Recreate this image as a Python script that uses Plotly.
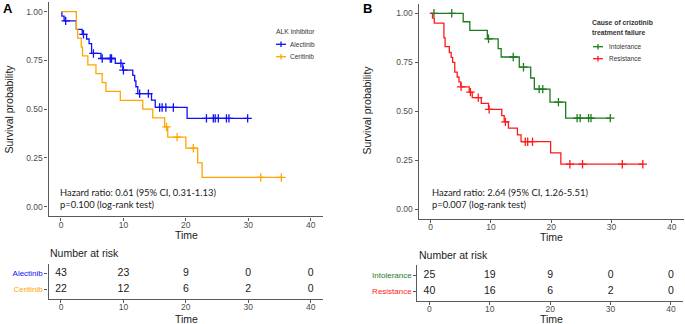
import numpy as np
import plotly.graph_objects as go

W, H = 685, 324

# ---------------- data ----------------
time_ticks = [0, 10, 20, 30, 40]

alec_event_t = [0.15, 0.5, 2.46, 3.4, 4.1, 4.5, 4.9, 6.4, 8.7, 9.9, 11.5, 11.8, 12.0, 12.3, 14.5, 15.1, 20.2]
alec_event_s = [0.977, 0.953, 0.909, 0.884, 0.86, 0.836, 0.786, 0.76, 0.735, 0.70, 0.673, 0.645, 0.615, 0.58, 0.547, 0.509, 0.453]
alec_cens_t = [0.75, 3.6, 5.2, 6.6, 7.9, 8.1, 9.6, 10.0, 12.6, 14.0, 15.8, 16.2, 16.8, 18.0, 23.3, 24.4, 24.7, 25.2, 26.5, 26.9, 29.9]

ceri_event_t = [2.46, 2.67, 3.25, 3.45, 4.3, 5.6, 6.6, 7.2, 9.5, 13.1, 14.7, 16.6, 17.1, 20.0, 21.9, 22.6]
ceri_event_s = [0.909, 0.864, 0.818, 0.773, 0.727, 0.682, 0.636, 0.591, 0.545, 0.50, 0.455, 0.409, 0.357, 0.30, 0.225, 0.15]
ceri_cens_t = [16.9, 18.6, 21.2, 32.0, 35.3]

intol_event_t = [5.4, 6.5, 9.4, 11.2, 11.7, 14.7, 16.6, 17.2, 19.8, 22.4]
intol_event_s = [0.957, 0.913, 0.87, 0.82, 0.777, 0.725, 0.67, 0.613, 0.547, 0.465]
intol_cens_t = [0.55, 3.5, 9.6, 13.7, 15.4, 18.0, 18.6, 21.2, 24.3, 24.8, 26.2, 26.6, 29.8]

resist_event_t = [0.3, 0.6, 2.2, 2.4, 3.1, 3.4, 3.65, 4.0, 4.4, 4.7, 5.0, 6.4, 6.9, 8.4, 9.6, 11.8, 12.2, 12.9, 14.4, 15.0, 19.9, 21.6]
resist_event_s = [0.975, 0.95, 0.875, 0.83, 0.80, 0.775, 0.75, 0.70, 0.675, 0.65, 0.625, 0.598, 0.57, 0.54, 0.51, 0.478, 0.446, 0.414, 0.38, 0.345, 0.288, 0.23]
resist_cens_t = [5.05, 6.6, 7.9, 9.7, 12.4, 15.7, 16.1, 16.9, 23.1, 25.2, 31.8, 35.2]

risk_alec = [43, 23, 9, 0, 0]
risk_ceri = [22, 12, 6, 2, 0]
risk_intol = [25, 19, 9, 0, 0]
risk_resist = [40, 16, 6, 2, 0]

C_BLUE, C_ORANGE, C_GREEN, C_RED = "#1010F5", "#FFA500", "#1E7B1E", "#FF1A1A"

# ---------------- helpers ----------------
def px(x):
    return x / W

def py(y):
    return 1 - y / H

def km_curve(ev_t, ev_s, cens_t):
    xs = [0.0] + list(ev_t)
    ys = [1.0] + list(ev_s)
    last = max(cens_t + list(ev_t))
    xs.append(last)
    ys.append(ys[-1])
    et = np.array(ev_t)
    es = np.array([1.0] + list(ev_s))
    cs = [es[np.searchsorted(et, t, side="right")] for t in cens_t]
    return xs, ys, cs

fig = go.Figure()

def add_km(ev_t, ev_s, cens_t, color, xa, ya, name):
    xs, ys, cs = km_curve(ev_t, ev_s, cens_t)
    fig.add_trace(go.Scatter(x=xs, y=ys, mode="lines", line=dict(color=color, width=1.3, shape="hv"),
                             xaxis=xa, yaxis=ya, showlegend=False, name=name))
    fig.add_trace(go.Scatter(x=cens_t, y=cs, mode="markers",
                             marker=dict(symbol="cross-thin", size=6, line=dict(color=color, width=1.3)),
                             xaxis=xa, yaxis=ya, showlegend=False, name=name))

add_km(alec_event_t, alec_event_s, alec_cens_t, C_BLUE, "x", "y", "Alectinib")
add_km(ceri_event_t, ceri_event_s, ceri_cens_t, C_ORANGE, "x", "y", "Ceritinib")
add_km(intol_event_t, intol_event_s, intol_cens_t, C_GREEN, "x2", "y2", "Intolerance")
add_km(resist_event_t, resist_event_s, resist_cens_t, C_RED, "x2", "y2", "Resistance")

TABLE_FONT = dict(family="Liberation Sans, Arial", size=10.5, color="#1a1a1a")
for vals, lvl, xa, ya in [(risk_alec, 2, "x3", "y3"), (risk_ceri, 1, "x3", "y3"),
                          (risk_intol, 2, "x4", "y4"), (risk_resist, 1, "x4", "y4")]:
    fig.add_trace(go.Scatter(x=time_ticks, y=[lvl] * len(time_ticks), mode="text",
                             text=[str(v) for v in vals], textfont=TABLE_FONT,
                             xaxis=xa, yaxis=ya, showlegend=False, hoverinfo="skip"))

AX_COL = "#5a5a5a"
TICK_FONT = dict(family="Liberation Sans, Arial", size=8.5, color="#4D4D4D")
common = dict(showline=True, linecolor=AX_COL, linewidth=1.2, ticks="outside", ticklen=3,
              tickcolor=AX_COL, tickwidth=1, showgrid=False, zeroline=False, tickfont=TICK_FONT,
              fixedrange=True)
xcommon = dict(common, ticklabelstandoff=-3)

xdomA = [px(48.5), px(323.2)]
xdomB = [px(418.6), px(683.8)]
xdomBt = [px(417.4), px(683.0)]

fig.update_layout(
    width=W, height=H, margin=dict(l=0, r=0, t=0, b=0),
    plot_bgcolor="white", paper_bgcolor="white", showlegend=False,
    xaxis=dict(domain=xdomA, range=[-2, 42], tickvals=time_ticks, anchor="y", **xcommon),
    yaxis=dict(domain=[py(216.45), py(1.95)], range=[-0.05, 1.05], tickvals=[0, 0.25, 0.5, 0.75, 1.0],
               ticktext=["0.00", "0.25", "0.50", "0.75", "1.00"], anchor="x", **common),
    xaxis2=dict(domain=xdomB, range=[-2, 42], tickvals=time_ticks, anchor="y2", **xcommon),
    yaxis2=dict(domain=[py(219.1), py(3.5)], range=[-0.05, 1.05], tickvals=[0, 0.25, 0.5, 0.75, 1.0],
                ticktext=["0.00", "0.25", "0.50", "0.75", "1.00"], anchor="x2", **common),
    xaxis3=dict(domain=xdomA, range=[-2, 42], tickvals=time_ticks, anchor="y3", **xcommon),
    yaxis3=dict(domain=[py(298.9), py(263.7)], range=[0.4, 2.6], tickvals=[1, 2],
                ticktext=[f'<span style="color:{C_ORANGE}">Ceritinib</span>',
                          f'<span style="color:{C_BLUE}">Alectinib</span>'],
                anchor="x3", **{**common, "tickfont": dict(family="Liberation Sans, Arial", size=8)}),
    xaxis4=dict(domain=xdomBt, range=[-2, 42], tickvals=time_ticks, anchor="y4", **xcommon),
    yaxis4=dict(domain=[py(300.6), py(265.4)], range=[0.4, 2.6], tickvals=[1, 2],
                ticktext=[f'<span style="color:{C_RED}">Resistance</span>',
                          f'<span style="color:{C_GREEN}">Intolerance</span>'],
                anchor="x4", **{**common, "tickfont": dict(family="Liberation Sans, Arial", size=8)}),
)

LBL = dict(family="Liberation Sans, Arial", size=10.5, color="#1a1a1a")
HR = dict(family="Lato, Open Sans", size=9.4, color="#1a1a1a")

def ann(x, y, text, font, xanchor="center", yanchor="middle", angle=0):
    fig.add_annotation(x=px(x), y=py(y), xref="paper", yref="paper", text=text, showarrow=False,
                       font=font, xanchor=xanchor, yanchor=yanchor, textangle=angle, borderpad=0)

# panel labels
ann(1.5, 8, "<b>A</b>", dict(family="Liberation Sans, Arial", size=13, color="black"), xanchor="left")
ann(362, 8, "<b>B</b>", dict(family="Liberation Sans, Arial", size=13, color="black"), xanchor="left")

# axis titles
ann(8.5, 109, "Survival probability", LBL, angle=-90)
ann(366.5, 110, "Survival probability", LBL, angle=-90)
ann(186, 235, "Time", LBL)
ann(551, 236.5, "Time", LBL)
ann(186, 318.5, "Time", LBL)
ann(551, 318.5, "Time", LBL)

# risk table titles
ann(48.5, 252.7, "Number at risk", LBL, xanchor="left")
ann(417.5, 255, "Number at risk", LBL, xanchor="left")

# hazard ratio text
ann(58.5, 192.7, "Hazard ratio: 0.61 (95% CI, 0.31-1.13)", HR, xanchor="left")
ann(58.5, 204.3, "p=0.100 (log-rank test)", HR, xanchor="left")
ann(430.5, 192.7, "Hazard ratio: 2.64 (95% CI, 1.26-5.51)", HR, xanchor="left")
ann(430.5, 204.3, "p=0.007 (log-rank test)", HR, xanchor="left")

# legends (custom, compact)
LEG = dict(family="Liberation Sans, Arial", size=6.5, color="#333333")
def legend(title_lines, title_x, title_y, items, glyph_x, text_x, y0, dy, bold=False):
    for i, t in enumerate(title_lines):
        ann(title_x, title_y + i * 10, f"<b>{t}</b>" if bold else t, dict(LEG, size=6.8), xanchor="left")
    for i, (lab, col) in enumerate(items):
        y = y0 + i * dy
        fig.add_shape(type="line", xref="paper", yref="paper", x0=px(glyph_x - 5), x1=px(glyph_x + 5),
                      y0=py(y), y1=py(y), line=dict(color=col, width=1.3))
        fig.add_shape(type="line", xref="paper", yref="paper", x0=px(glyph_x), x1=px(glyph_x),
                      y0=py(y - 2.8), y1=py(y + 2.8), line=dict(color=col, width=1.3))
        ann(text_x, y, lab, LEG, xanchor="left")

legend(["ALK inhibitor"], 275, 31.7, [("Alectinib", C_BLUE), ("Ceritinib", C_ORANGE)], 281, 289, 44.3, 12.4)
legend(["Cause of crizotinib", "treatment failure"], 590.5, 22.7,
       [("Intolerance", C_GREEN), ("Resistance", C_RED)], 598, 607.5, 46.7, 12.0, bold=True)

fig.write_html("out.html", config={"displayModeBar": False},
               post_script="document.body.style.margin='0px';document.body.style.padding='0px';")
